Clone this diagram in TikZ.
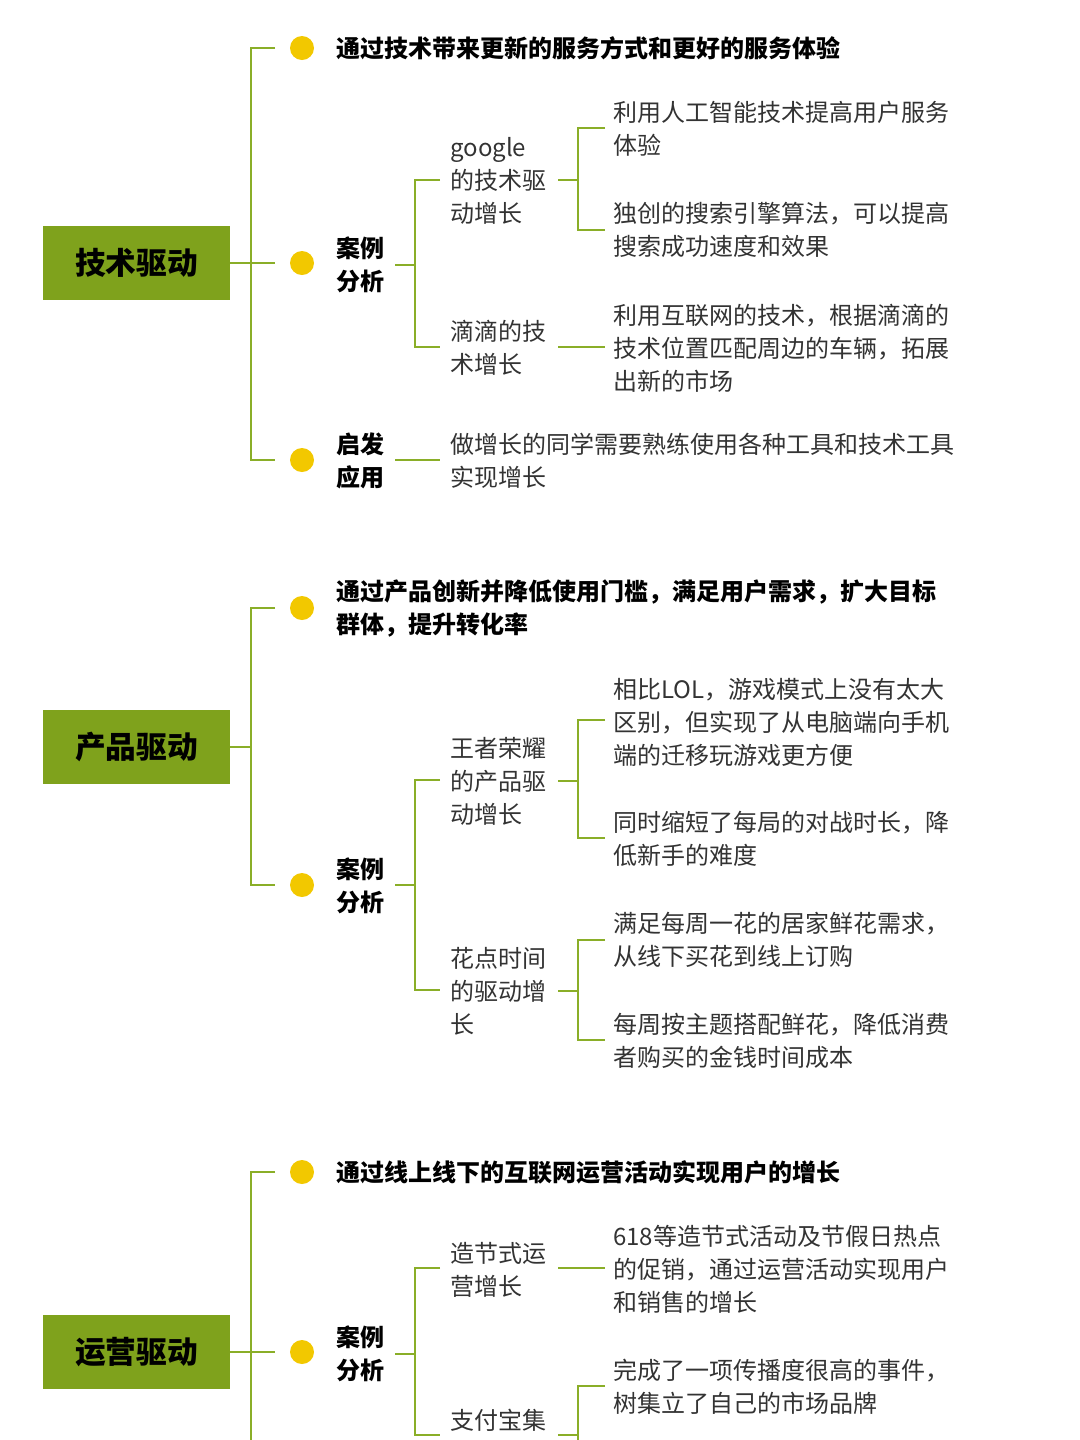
\documentclass[tikz,border=0pt]{standalone}
\usepackage{fontspec}
\setmainfont{Noto Sans CJK SC}
\definecolor{lg}{HTML}{8AAE28}
\definecolor{bx}{HTML}{7FA21C}
\definecolor{yb}{HTML}{F2C800}
\definecolor{tx}{HTML}{333333}
\begin{document}
\begin{tikzpicture}[x=0.75pt,y=-0.75pt,
  ln/.style={draw=lg,line width=2.2pt},
  rootbox/.style={fill=bx,minimum width=140.25pt,minimum height=55.5pt,inner sep=0,font=\fontsize{23}{27}\selectfont\bfseries,text=black},
  dot/.style={circle,fill=yb,minimum size=18pt,inner sep=0},
  t/.style={anchor=west,align=left,inner sep=0,text=tx,font=\fontsize{18}{24.75}\selectfont},
  tb/.style={t,text=black,font=\fontsize{18}{24.75}\selectfont\bfseries}]
\useasboundingbox (0,0) rectangle (1080,1440);
% ---------- section 1
\node[rootbox] (r1) at (136.5,263) {技术驱动};
\draw[ln] (r1.east) -- (275,263);
\draw[ln] (275,48) -- (251,48) -- (251,460) -- (275,460);
\node[dot] (b11) at (302,48) {};
\node[dot] (b12) at (302,263) {};
\node[dot] (b13) at (302,460) {};
\node[tb] (s11) at (336,48) {通过技术带来更新的服务方式和更好的服务体验};
\node[tb] (s12) at (336,265) {案例\\分析};
\node[tb] (s13) at (336,461) {启发\\应用};
\draw[ln] (395,265) -- (415,265);
\draw[ln] (440,180) -- (415,180) -- (415,347) -- (440,347);
\node[t] (g1) at (450,181) {google\\的技术驱\\动增长};
\node[t] (g2) at (450,348) {滴滴的技\\术增长};
\draw[ln] (558,180) -- (578,180);
\draw[ln] (605,128) -- (578,128) -- (578,230) -- (605,230);
\node[t] (l1) at (613,129) {利用人工智能技术提高用户服务\\体验};
\node[t] (l2) at (613,230) {独创的搜索引擎算法，可以提高\\搜索成功速度和效果};
\draw[ln] (558,347) -- (605,347);
\node[t] (l3) at (613,348) {利用互联网的技术，根据滴滴的\\技术位置匹配周边的车辆，拓展\\出新的市场};
\draw[ln] (395,460) -- (440,460);
\node[t] (l4) at (450,461) {做增长的同学需要熟练使用各种工具和技术工具\\实现增长};
% ---------- section 2
\node[rootbox] (r2) at (136.5,747) {产品驱动};
\draw[ln] (r2.east) -- (251,747);
\draw[ln] (275,608) -- (251,608) -- (251,885) -- (275,885);
\node[dot] (b21) at (302,608) {};
\node[dot] (b22) at (302,885) {};
\node[tb] (s21) at (336,608) {通过产品创新并降低使用门槛，满足用户需求，扩大目标\\群体，提升转化率};
\node[tb] (s22) at (336,886) {案例\\分析};
\draw[ln] (395,885) -- (415,885);
\draw[ln] (440,780) -- (415,780) -- (415,990) -- (440,990);
\node[t] (g3) at (450,781) {王者荣耀\\的产品驱\\动增长};
\node[t] (g4) at (450,991) {花点时间\\的驱动增\\长};
\draw[ln] (558,781) -- (578,781);
\draw[ln] (605,720) -- (578,720) -- (578,838) -- (605,838);
\node[t] (l5) at (613,722) {相比LOL，游戏模式上没有太大\\区别，但实现了从电脑端向手机\\端的迁移玩游戏更方便};
\node[t] (l6) at (613,839) {同时缩短了每局的对战时长，降\\低新手的难度};
\draw[ln] (558,991) -- (578,991);
\draw[ln] (605,940) -- (578,940) -- (578,1040) -- (605,1040);
\node[t] (l7) at (613,940) {满足每周一花的居家鲜花需求，\\从线下买花到线上订购};
\node[t] (l8) at (613,1041) {每周按主题搭配鲜花，降低消费\\者购买的金钱时间成本};
% ---------- section 3
\node[rootbox] (r3) at (136.5,1352) {运营驱动};
\draw[ln] (r3.east) -- (275,1352);
\draw[ln] (275,1172) -- (251,1172) -- (251,1440);
\node[dot] (b31) at (302,1172) {};
\node[dot] (b32) at (302,1352) {};
\node[tb] (s31) at (336,1172) {通过线上线下的互联网运营活动实现用户的增长};
\node[tb] (s32) at (336,1354) {案例\\分析};
\draw[ln] (395,1354) -- (415,1354);
\draw[ln] (440,1268) -- (415,1268) -- (415,1435) -- (440,1435);
\node[t] (g5) at (450,1270) {造节式运\\营增长};
\node[t] (g6) at (450,1420) {支付宝集};
\draw[ln] (558,1268) -- (605,1268);
\node[t] (l9) at (613,1269) {618等造节式活动及节假日热点\\的促销，通过运营活动实现用户\\和销售的增长};
\draw[ln] (558,1435) -- (578,1435);
\draw[ln] (605,1386) -- (578,1386) -- (578,1440);
\node[t] (l10) at (613,1387) {完成了一项传播度很高的事件，\\树集立了自己的市场品牌};
\end{tikzpicture}
\end{document}
